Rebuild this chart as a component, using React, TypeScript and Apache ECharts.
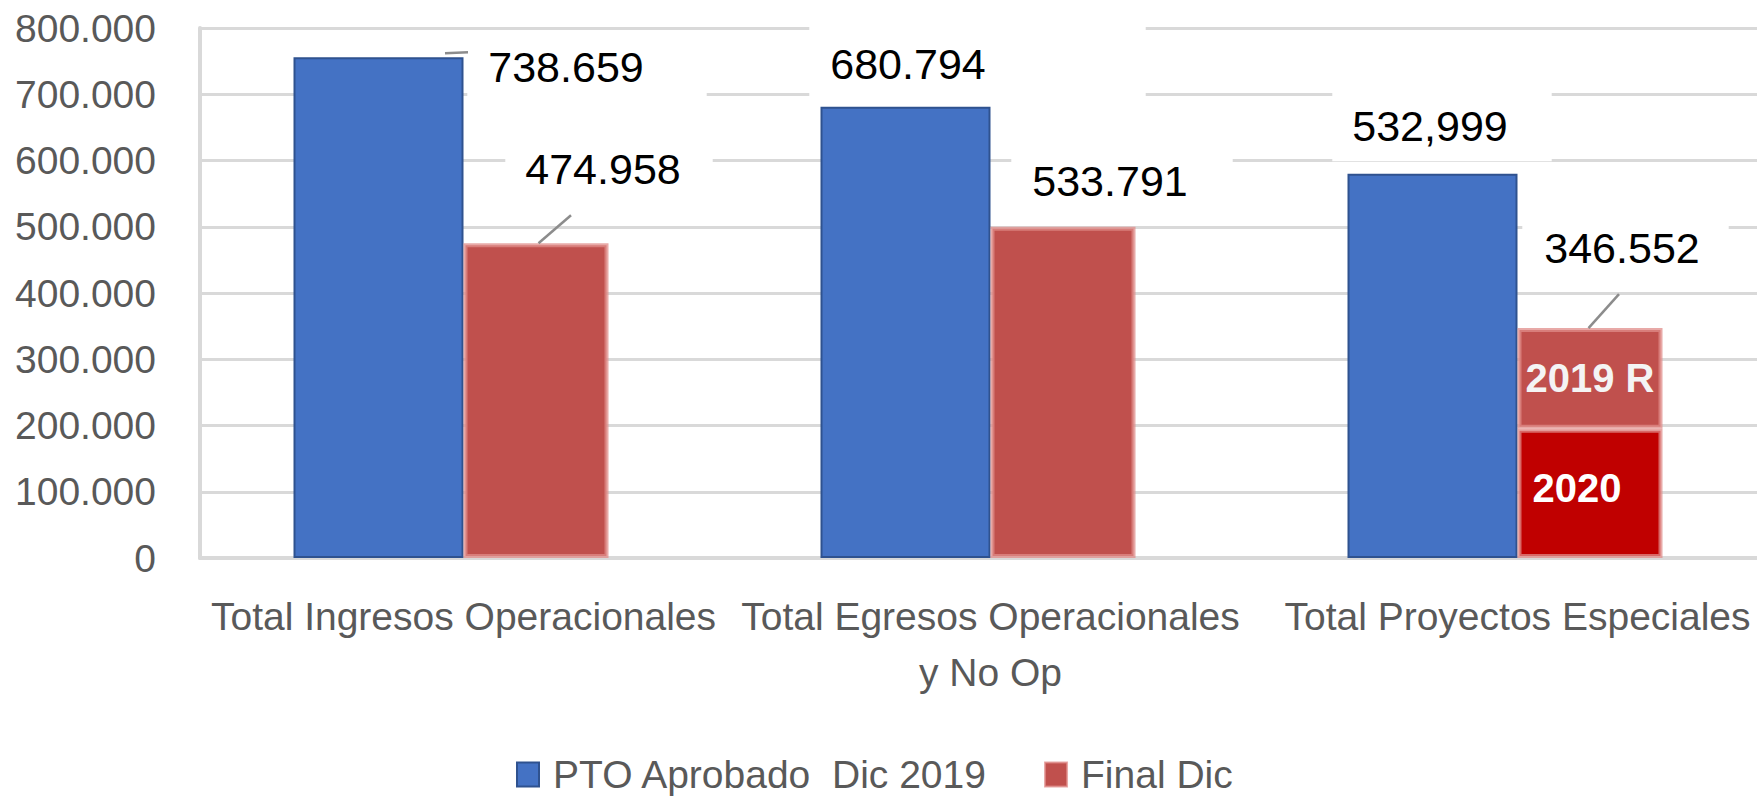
import React, { useEffect, useRef } from 'react';
import * as echarts from 'echarts';

// ---- data ----
const categories = [
  'Total Ingresos Operacionales',
  'Total Egresos Operacionales y No Op',
  'Total Proyectos Especiales',
];
const legendNames = ['PTO Aprobado  Dic 2019', 'Final Dic'];
const ptoValues = [756000, 681000, 580000];
const finalValues = [475000, 500000, 347000];
const final2020Part = 195000;
const ptoLabels = ['738.659', '680.794', '532,999'];
const finalLabels = ['474.958', '533.791', '346.552'];
const segmentLabels = ['2019 R', '2020'];
const yMin = 0;
const yMax = 800000;
const yInterval = 100000;

// ---- styles ----
const FONT = 'Liberation Sans';
const BLUE = '#4472C4';
const BLUE_BORDER = '#2F528F';
const RED = '#C0504D';
const RED_BORDER = 'rgba(224,140,138,0.75)';
const DARK_RED = '#C00000';
const GRID_COLOR = '#D9D9D9';
const AXIS_TEXT = '#595959';
const LEADER_COLOR = '#8C8C8C';

const ptoPad = [[15, 63, 10, 21], [18, 160, 13, 21], [18, 44, 14, 20]];
const ptoShift = [[208.5, 46.5], [72, -3.3], [9.5, -7.5]];
const finalPad = [[15, 32, 15, 20], [10, 45, 10, 21], [6, 29, 6, 22]];
const finalShift = [[73, -32.8], [59, -9.5], [35.5, -47.6]];
const seg2020Shift = [-13, -5];

// leader lines: which bar (series key, category) and pixel offsets from the
// category centre at the bar top: [startDx, startDy, endDx, endDy]
const leaderBars: Array<['pto' | 'final', number]> = [['pto', 0], ['final', 0], ['final', 2]];
const leaderOffsets = [
  [-18.5, -4, 4.5, -5],
  [75, 0, 107.5, -28],
  [71, 0, 101.5, -34],
];

const valueLabel = {
  show: true,
  position: 'top' as const,
  distance: 5,
  color: '#000',
  fontSize: 43,
  lineHeight: 43,
  fontFamily: FONT,
  backgroundColor: '#fff',
};

function fmtThousands(v: number) {
  if (v === 0) return '0';
  return String(v).replace(/\B(?=(\d{3})+(?!\d))/g, '.');
}

export default function App() {
  const ref = useRef<HTMLDivElement>(null);
  useEffect(() => {
    if (!ref.current) return;
    const chart = echarts.init(ref.current, undefined, { renderer: 'svg' });

    const ptoData = ptoValues.map((v, i) => ({ value: v, label: { padding: ptoPad[i] } }));

    const finalData = finalValues.map((v, i) =>
      i === 2
        ? {
            value: final2020Part,
            itemStyle: { color: DARK_RED },
            label: {
              position: 'inside',
              color: '#fff',
              fontWeight: 'bold',
              fontSize: 40,
              lineHeight: 40,
              backgroundColor: 'transparent',
              padding: 0,
            },
          }
        : { value: v, label: { padding: finalPad[i] } }
    );

    const topSegment = finalValues.map((v, i) => (i === 2 ? v - final2020Part : '-'));
    const topLabelHolder = finalValues.map((v, i) =>
      i === 2 ? { value: 0, label: { padding: finalPad[i] } } : '-'
    );

    const leaderData = leaderBars.map(([key, cat]) => [
      cat,
      key === 'pto' ? ptoValues[cat] : finalValues[cat],
    ]);

    const option: any = {
      animation: false,
      textStyle: { fontFamily: FONT },
      grid: {
        left: 200,
        top: 28,
        width: 1581,
        height: 530,
        containLabel: false,
        outerBoundsMode: 'none',
      },
      legend: {
        data: legendNames,
        left: 511,
        top: 750,
        icon: 'rect',
        itemWidth: 22,
        itemHeight: 24,
        itemGap: 56,
        selectedMode: false,
        textStyle: {
          fontSize: 39,
          color: AXIS_TEXT,
          fontFamily: FONT,
          padding: [0, 0, 0, 9],
        },
      },
      xAxis: {
        type: 'category',
        data: categories,
        axisTick: { show: false },
        axisLine: { show: true, lineStyle: { color: GRID_COLOR, width: 4 } },
        axisLabel: {
          interval: 0,
          fontSize: 39,
          lineHeight: 56,
          margin: 30,
          color: AXIS_TEXT,
          fontFamily: FONT,
          formatter: (v: string) => v.replace(' y No Op', '\ny No Op'),
        },
      },
      yAxis: {
        type: 'value',
        min: yMin,
        max: yMax,
        interval: yInterval,
        axisLine: { show: true, lineStyle: { color: GRID_COLOR, width: 4 } },
        axisTick: { show: false },
        splitLine: { show: true, lineStyle: { color: GRID_COLOR, width: 3 } },
        axisLabel: {
          fontSize: 39,
          color: AXIS_TEXT,
          fontFamily: FONT,
          margin: 44,
          formatter: (v: number) => fmtThousands(v),
        },
      },
      series: [
        {
          name: legendNames[0],
          type: 'bar',
          barWidth: 170,
          barGap: 0,
          data: ptoData,
          itemStyle: { color: BLUE, borderColor: BLUE_BORDER, borderWidth: 2 },
          label: { ...valueLabel, formatter: (p: any) => ptoLabels[p.dataIndex] },
          labelLayout: (p: any) => ({ dx: ptoShift[p.dataIndex][0], dy: ptoShift[p.dataIndex][1] }),
          z: 2,
        },
        {
          name: legendNames[1],
          type: 'bar',
          stack: 'final',
          barWidth: 145,
          barGap: 0,
          data: finalData,
          itemStyle: { color: RED, borderColor: RED_BORDER, borderWidth: 4 },
          label: {
            ...valueLabel,
            formatter: (p: any) => (p.dataIndex === 2 ? segmentLabels[1] : finalLabels[p.dataIndex]),
          },
          labelLayout: (p: any) =>
            p.dataIndex === 2
              ? { dx: seg2020Shift[0], dy: seg2020Shift[1] }
              : { dx: finalShift[p.dataIndex][0], dy: finalShift[p.dataIndex][1] },
          z: 2,
        },
        {
          name: segmentLabels[0],
          type: 'bar',
          stack: 'final',
          barWidth: 145,
          barGap: 0,
          data: topSegment,
          itemStyle: { color: RED, borderColor: RED_BORDER, borderWidth: 4 },
          label: {
            show: true,
            position: 'inside',
            color: '#F4F4F4',
            fontWeight: 'bold',
            fontSize: 40,
            fontFamily: FONT,
            formatter: () => segmentLabels[0],
          },
          z: 2,
        },
        {
          name: 'etiqueta',
          type: 'bar',
          stack: 'final',
          barWidth: 145,
          barGap: 0,
          data: topLabelHolder,
          itemStyle: { color: 'rgba(0,0,0,0)', borderWidth: 0 },
          label: { ...valueLabel, formatter: (p: any) => finalLabels[p.dataIndex] },
          labelLayout: (p: any) => ({ dx: finalShift[p.dataIndex][0], dy: finalShift[p.dataIndex][1] }),
          z: 3,
        },
        {
          name: 'espacio',
          type: 'bar',
          barWidth: 25,
          barGap: 0,
          data: ['-', '-', '-'],
          itemStyle: { color: 'rgba(0,0,0,0)' },
        },
        {
          name: 'guias',
          type: 'custom',
          data: leaderData,
          z: 5,
          silent: true,
          renderItem: (params: any, api: any) => {
            const pt = api.coord([api.value(0), api.value(1)]);
            const o = leaderOffsets[params.dataIndex];
            return {
              type: 'line',
              shape: { x1: pt[0] + o[0], y1: pt[1] + o[1], x2: pt[0] + o[2], y2: pt[1] + o[3] },
              style: { stroke: LEADER_COLOR, lineWidth: 2.5 },
            };
          },
        },
      ],
    };
    chart.setOption(option);
    return () => chart.dispose();
  }, []);
  return (
    <div
      ref={ref}
      style={{ position: 'absolute', left: 0, top: 0, width: 1757, height: 797, background: '#fff' }}
    />
  );
}
